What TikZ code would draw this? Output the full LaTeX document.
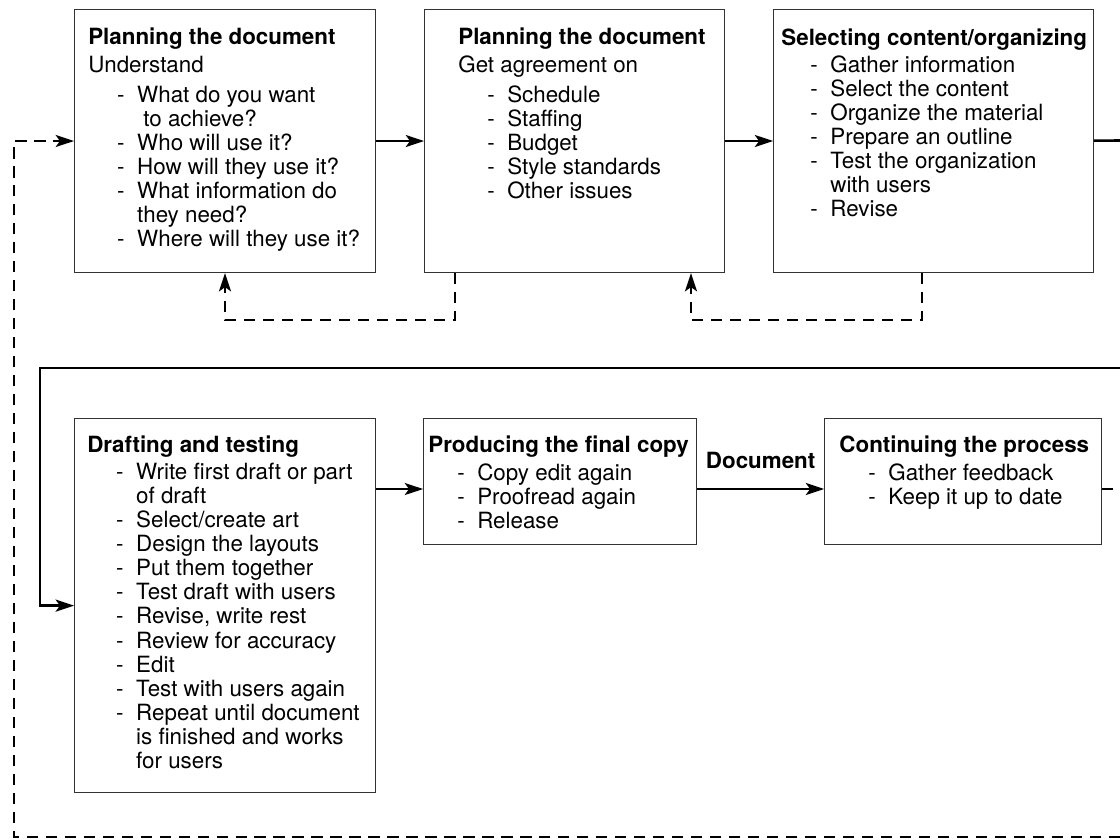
\documentclass[tikz,border=0pt]{standalone}
\usepackage{fontspec}
\setmainfont{TeX Gyre Heros}
\usetikzlibrary{positioning, arrows.meta}

\newcommand{\itm}[1]{\hspace*{20.6pt}\makebox[14.2pt][l]{-}#1}
\newcommand{\cnt}[1]{\hspace*{34.8pt}#1}

\begin{document}
\begin{tikzpicture}[x=0.025cm, y=-0.025cm,
                  box/.style={draw=black!80, line width=0.7pt, anchor=north west, inner sep=0pt},
                  txt/.style={anchor=north west, align=left, inner sep=0pt,
                              font=\fontsize{15.9pt}{17.07pt}\selectfont},
                  lnk/.style={line width=1.8pt},
                  arr/.style={lnk, -{Stealth[length=13pt, width=8.5pt, inset=3pt]}},
                  dsh/.style={lnk, dash pattern=on 8pt off 5.5pt},
                  fb/.style={arr, dash pattern=on 8pt off 5.5pt},
            ]
            \useasboundingbox (0,0) rectangle (1120,840);

            % boxes
            \node[box, minimum width=7.525cm, minimum height=6.575cm] (planA) at (74,9) {};
            \node[box, minimum width=7.5cm, minimum height=6.575cm, right=1.2cm of planA] (planB) {};
            \node[box, minimum width=8cm, minimum height=6.575cm, right=1.2cm of planB] (select) {};
            \node[box, minimum width=7.525cm, minimum height=9.35cm,
                  below=3.625cm of planA.south west, anchor=north west] (draft) {};
            \node[box, minimum width=6.825cm, minimum height=3.15cm,
                  right=1.175cm of draft.north east, anchor=north west] (produce) {};
            \node[box, minimum width=6.925cm, minimum height=3.15cm, right=3.175cm of produce] (cont) {};

            % box texts
            \node[txt] (planAtxt) at ([shift={(14,19)}]planA.north west) {\textbf{Planning the document}\\[2.8pt]
                  Understand\\[4.3pt]
                  \itm{What do you want}\\
                  \cnt{\ to achieve?}\\
                  \itm{Who will use it?}\\
                  \itm{How will they use it?}\\
                  \itm{What information do}\\
                  \cnt{they need?}\\
                  \itm{Where will they use it?}};
            \node[txt] (planBtxt) at ([shift={(34,19)}]planB.north west) {\textbf{Planning the document}\\[2.8pt]
                  Get agreement on\\[4.3pt]
                  \itm{Schedule}\\
                  \itm{Staffing}\\
                  \itm{Budget}\\
                  \itm{Style standards}\\
                  \itm{Other issues}};
            \node[txt] (selecttxt) at ([shift={(8,20)}]select.north west) {\textbf{Selecting content/organizing}\\[1.5pt]
                  \itm{Gather information}\\
                  \itm{Select the content}\\
                  \itm{Organize the material}\\
                  \itm{Prepare an outline}\\
                  \itm{Test the organization}\\
                  \cnt{with users}\\
                  \itm{Revise}};
            \node[txt] (drafttxt) at ([shift={(13,17)}]draft.north west) {\textbf{Drafting and testing}\\[2.8pt]
                  \itm{Write first draft or part}\\
                  \cnt{of draft}\\
                  \itm{Select/create art}\\
                  \itm{Design the layouts}\\
                  \itm{Put them together}\\
                  \itm{Test draft with users}\\
                  \itm{Revise, write rest}\\
                  \itm{Review for accuracy}\\
                  \itm{Edit}\\
                  \itm{Test with users again}\\
                  \itm{Repeat until document}\\
                  \cnt{is finished and works}\\
                  \cnt{for users}};
            \node[txt] (producetxt) at ([shift={(5,17)}]produce.north west) {\textbf{Producing the final copy}\\[3pt]
                  \itm{Copy edit again}\\
                  \itm{Proofread again}\\
                  \itm{Release}};
            \node[txt] (conttxt) at ([shift={(15,17)}]cont.north west) {\textbf{Continuing the process}\\[3pt]
                  \itm{Gather feedback}\\
                  \itm{Keep it up to date}};

            % top row
            \draw[arr] (planA) -- (planB);
            \draw[arr] (planB) -- (select);
            \coordinate (exitA) at (1120,140.5);
            \draw[lnk] (select) -- (exitA);

            % into second row
            \coordinate (entryB) at (1120,368);
            \coordinate (turnB) at (40,368);
            \draw[arr] (entryB) -- (turnB) |- (draft.west);

            % second row
            \coordinate (lane) at (0,489);
            \draw[arr] (draft.east |- lane) -- (produce.west |- lane);
            \draw[arr] (produce.east |- lane) -- node[above=13.5pt, inner sep=0pt,
                  font=\fontsize{15.9pt}{17.07pt}\selectfont\bfseries] (doclbl) {Document} (cont.west |- lane);
            \coordinate (exitC) at (1120,489);
            \draw[dsh] (cont.east |- lane) -- (exitC);

            % feedback loops
            \coordinate (entryL) at (1120,837);
            \coordinate (turnL) at (14,837);
            \draw[fb] (entryL) -- (turnL) |- (planA.west);
            \coordinate (backA) at (455,320);
            \draw[fb] (planB.south -| backA) -- (backA) -| (planA.south);
            \coordinate (backB) at (922,320);
            \coordinate (backBin) at (691,320);
            \draw[fb] (select.south -| backB) -- (backB) -- (backBin) -- (planB.south -| backBin);
      \end{tikzpicture}
\end{document}
